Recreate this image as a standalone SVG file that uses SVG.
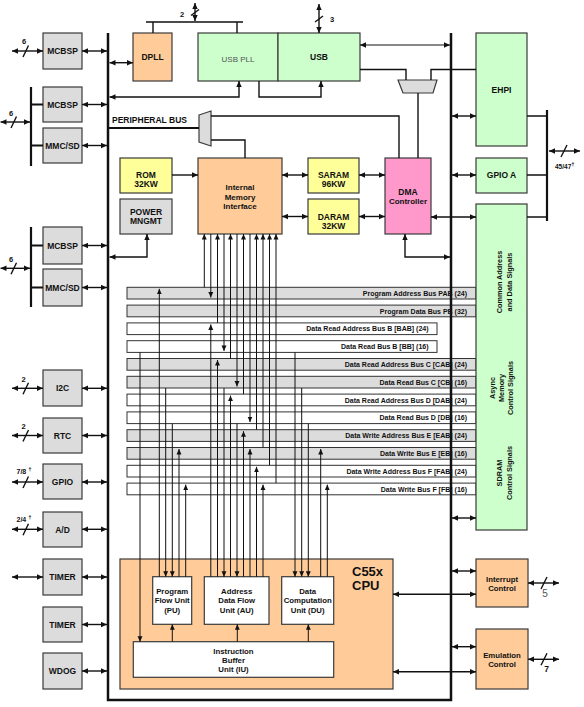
<svg xmlns="http://www.w3.org/2000/svg" width="584" height="707" viewBox="0 0 584 707">
<defs>
<style>
text{font-family:"Liberation Sans",Arial,sans-serif;font-weight:bold;font-size:8.5px;fill:#111;text-anchor:middle}
.b{stroke:#3a3a3a;stroke-width:1.2}
.g{fill:#dcdcdc}.p{fill:#ffcc99}.gr{fill:#ccffcc}.y{fill:#ffff99}.pk{fill:#ff99cc}.w{fill:#fff}
.c{fill:none;stroke:#111;stroke-width:1.4}
.t{fill:none;stroke:#111;stroke-width:2.2}
.v{fill:none;stroke:#111;stroke-width:1}
.d{marker-start:url(#a);marker-end:url(#a)}
.e{marker-end:url(#a)}
.ve{marker-end:url(#s)}
.row{stroke:#333;stroke-width:1}
.bl{font-size:7px;text-anchor:end}
.u{font-size:7.8px}
.sm{font-size:7.5px}
</style>
<marker id="a" viewBox="0 0 10 10" refX="10" refY="5" markerWidth="6" markerHeight="6" markerUnits="userSpaceOnUse" orient="auto-start-reverse"><path d="M0,0.5L10,5L0,9.5z" fill="#111"/></marker>
<marker id="s" viewBox="0 0 10 10" refX="10" refY="5" markerWidth="5.5" markerHeight="5.5" markerUnits="userSpaceOnUse" orient="auto-start-reverse"><path d="M0,0.5L10,5L0,9.5z" fill="#111"/></marker>
</defs>
<rect x="0" y="0" width="584" height="707" fill="#fff"/>

<g id="cpu"><rect class="b p" x="120" y="559" width="273" height="130"/><text x="352" y="576" style="font-size:13px;text-anchor:start">C55x</text><text x="352" y="590" style="font-size:13px;text-anchor:start">CPU</text></g>

<g id="buses">
<rect class="row g" x="127" y="287.3" width="349" height="11.7"/><text class="bl" x="467" y="295.8">Program Address Bus PAB (24)</text>
<rect class="row g" x="127" y="305.1" width="349" height="11.7"/><text class="bl" x="467" y="313.6">Program Data Bus PB (32)</text>
<rect class="row w" x="127" y="322.9" width="310" height="11.7"/><text class="bl" x="428.5" y="331.4">Data Read Address Bus B [BAB] (24)</text>
<rect class="row w" x="127" y="340.7" width="310" height="11.7"/><text class="bl" x="428.5" y="349.2">Data Read Bus B [BB] (16)</text>
<rect class="row g" x="127" y="358.5" width="349" height="11.7"/><text class="bl" x="467" y="367">Data Read Address Bus C [CAB] (24)</text>
<rect class="row g" x="127" y="376.3" width="349" height="11.7"/><text class="bl" x="467" y="384.8">Data Read Bus C [CB] (16)</text>
<rect class="row w" x="127" y="394.1" width="349" height="11.7"/><text class="bl" x="467" y="402.6">Data Read Address Bus D [DAB] (24)</text>
<rect class="row w" x="127" y="411.9" width="349" height="11.7"/><text class="bl" x="467" y="420.4">Data Read Bus D [DB] (16)</text>
<rect class="row g" x="127" y="429.7" width="349" height="11.7"/><text class="bl" x="467" y="438.2">Data Write Address Bus E [EAB] (24)</text>
<rect class="row g" x="127" y="447.5" width="349" height="11.7"/><text class="bl" x="467" y="456">Data Write Bus E [EB] (16)</text>
<rect class="row w" x="127" y="465.3" width="349" height="11.7"/><text class="bl" x="467" y="473.8">Data Write Address Bus F [FAB] (24)</text>
<rect class="row w" x="127" y="483.1" width="349" height="11.7"/><text class="bl" x="467" y="491.6">Data Write Bus F [FB] (16)</text>
</g>

<path d="M108,33V700H451V33" fill="none" stroke="#111" stroke-width="2.5"/>

<g id="mcbsp1"><rect class="b g" x="43" y="33" width="39" height="36"/><text x="62.5" y="54">MCBSP</text></g>
<g id="mcbsp2"><rect class="b g" x="43" y="87" width="39" height="35"/><text x="62.5" y="107.5">MCBSP</text></g>
<g id="mmcsd1"><rect class="b g" x="43" y="128" width="39" height="35"/><text x="62.5" y="148.5">MMC/SD</text></g>
<g id="mcbsp3"><rect class="b g" x="43" y="227" width="39" height="37"/><text x="62.5" y="248.5">MCBSP</text></g>
<g id="mmcsd2"><rect class="b g" x="43" y="269" width="39" height="37"/><text x="62.5" y="290.5">MMC/SD</text></g>
<g id="i2c"><rect class="b g" x="43" y="370" width="39" height="36"/><text x="62.5" y="391">I2C</text></g>
<g id="rtc"><rect class="b g" x="43" y="418" width="39" height="35"/><text x="62.5" y="438.5">RTC</text></g>
<g id="gpio"><rect class="b g" x="43" y="464" width="39" height="35"/><text x="62.5" y="485">GPIO</text></g>
<g id="ad"><rect class="b g" x="43" y="512" width="39" height="35"/><text x="62.5" y="532.5">A/D</text></g>
<g id="timer1"><rect class="b g" x="43" y="559" width="39" height="36"/><text x="62.5" y="580">TIMER</text></g>
<g id="timer2"><rect class="b g" x="43" y="607" width="39" height="35"/><text x="62.5" y="627.5">TIMER</text></g>
<g id="wdog"><rect class="b g" x="43" y="653" width="39" height="36"/><text x="62.5" y="674">WDOG</text></g>

<g id="dpll"><rect class="b p" x="133" y="33" width="39" height="48"/><text x="152.5" y="60">DPLL</text></g>
<g id="usbpll"><rect class="b gr" x="198" y="33" width="80" height="48"/><text x="238" y="62" style="font-weight:normal;fill:#555;font-size:8px">USB PLL</text></g>
<g id="usb"><rect class="b gr" x="278" y="33" width="82" height="48"/><text x="319" y="60">USB</text></g>

<g id="rom"><rect class="b y" x="120" y="158" width="52" height="35"/><text x="146" y="178">ROM</text><text x="146" y="187">32KW</text></g>
<g id="power"><rect class="b g" x="120" y="199" width="52" height="35"/><text x="146" y="214.5">POWER</text><text x="146" y="224">MNGMT</text></g>
<g id="imi"><rect class="b p" x="198" y="158" width="84" height="76"/><text x="240" y="189.5" style="font-size:8px">Internal</text><text x="240" y="199.5" style="font-size:8px">Memory</text><text x="240" y="208.5" style="font-size:8px">Interface</text></g>
<g id="saram"><rect class="b y" x="308" y="158" width="51" height="35"/><text x="333.5" y="178">SARAM</text><text x="333.5" y="187">96KW</text></g>
<g id="daram"><rect class="b y" x="308" y="199" width="51" height="35"/><text x="333.5" y="219.5">DARAM</text><text x="333.5" y="228.5">32KW</text></g>
<g id="dma"><rect class="b pk" x="385" y="158" width="46" height="76"/><text x="408" y="194.5">DMA</text><text x="408" y="204" style="font-size:8px">Controller</text></g>

<g id="usbmux"><polygon class="b g" points="398,80 437,80 433,93 403,93"/></g>
<g id="permux"><polygon class="b g" points="199,115 211,111 211,146 199,142"/></g>

<g id="ehpi"><rect class="b gr" x="476" y="33" width="51" height="113"/><text x="501.5" y="93">EHPI</text></g>
<g id="gpioa"><rect class="b gr" x="476" y="158" width="51" height="35"/><text x="501.5" y="178">GPIO A</text></g>
<g id="emif"><rect class="b gr" x="476" y="204" width="51" height="326"/>
<text transform="translate(502,282) rotate(-90)" style="font-size:7.3px"><tspan x="0" y="0">Common Address</tspan><tspan x="0" y="10">and Data  Signals</tspan></text>
<text transform="translate(495,388) rotate(-90)" style="font-size:7.3px"><tspan x="0" y="0">Async</tspan><tspan x="0" y="9">Memory</tspan><tspan x="0" y="18">Control Signals</tspan></text>
<text transform="translate(502,473) rotate(-90)" style="font-size:7.3px"><tspan x="0" y="0">SDRAM</tspan><tspan x="0" y="10">Control Signals</tspan></text>
</g>
<g id="intc"><rect class="b p" x="476" y="559" width="52" height="48"/><text class="u" x="502" y="582">Interrupt</text><text class="u" x="502" y="591">Control</text></g>
<g id="emu"><rect class="b p" x="476" y="629" width="52" height="60"/><text class="u" x="502" y="658">Emulation</text><text class="u" x="502" y="667">Control</text></g>

<g id="pu"><rect class="b w" x="152.7" y="576.7" width="39" height="47.6"/><text class="u" x="172.2" y="593.5">Program</text><text class="u" x="172.2" y="603">Flow Unit</text><text class="u" x="172.2" y="612.5">(PU)</text></g>
<g id="au"><rect class="b w" x="204.3" y="576.7" width="64.7" height="47.6"/><text class="u" x="236.7" y="593.5">Address</text><text class="u" x="236.7" y="603">Data Flow</text><text class="u" x="236.7" y="612.5">Unit (AU)</text></g>
<g id="du"><rect class="b w" x="281.7" y="576.7" width="52" height="47.6"/><text class="u" x="307.7" y="593.5">Data</text><text class="u" x="307.7" y="603">Computation</text><text class="u" x="307.7" y="612.5">Unit (DU)</text></g>
<g id="ibu"><rect class="b w" x="133.3" y="641.7" width="200.4" height="35.6"/><text class="u" x="233.5" y="653.5">Instruction</text><text class="u" x="233.5" y="662.5">Buffer</text><text class="u" x="233.5" y="671.5">Unit (IU)</text></g>

<g id="connectors">
<path class="c d" d="M12,51H43"/><path class="c" d="M23,57L28.5,45.5"/><text class="sm" x="24" y="44">6</text>
<path class="t" d="M31,87V166M31,104.5H43M31,145.5H43"/>
<path class="c d" d="M0.5,122H30"/><path class="c" d="M11,128L16.5,116.5"/><text class="sm" x="11" y="115.5">6</text>
<path class="t" d="M31,227V307M31,245.5H43M31,287.5H43"/>
<path class="c d" d="M0.5,268.3H30"/><path class="c" d="M11,274.3L16.5,262.8"/><text class="sm" x="11" y="261.5">6</text>
<path class="c d" d="M12,388.3H43"/><path class="c" d="M23,394.3L28.5,382.8"/><text class="sm" x="23.5" y="382">2</text>
<path class="c d" d="M12,435.5H43"/><path class="c" d="M23,441.5L28.5,430"/><text class="sm" x="23.5" y="429">2</text>
<path class="c d" d="M12,482H43"/><path class="c" d="M23,488L28.5,476.5"/><text class="sm" x="24" y="473.5" style="font-size:7px">7/8 <tspan dy="-3" style="font-size:6px">†</tspan></text>
<path class="c d" d="M12,529.3H43"/><path class="c" d="M23,535.3L28.5,523.8"/><text class="sm" x="24" y="521.5" style="font-size:7px">2/4 <tspan dy="-3" style="font-size:6px">†</tspan></text>
<path class="c d" d="M12,577H43"/>

<path class="c d" d="M82,51H107"/>
<path class="c d" d="M82,104.5H107"/>
<path class="c d" d="M82,145.5H107"/>
<path class="c d" d="M82,245.5H107"/>
<path class="c d" d="M82,287.5H107"/>
<path class="c d" d="M82,388.3H107"/>
<path class="c d" d="M82,435.5H107"/>
<path class="c d" d="M82,482H107"/>
<path class="c d" d="M82,529.3H107"/>
<path class="c d" d="M82,577H107"/>
<path class="c d" d="M82,624.5H107"/>
<path class="c d" d="M82,671H107"/>

<path class="c" d="M146,22H243M153,22V33M237,22V33"/>
<path class="c d" d="M195,3V21"/><path class="c" d="M191,15.5L199,9.5"/><text class="sm" x="182" y="17">2</text>
<path class="c d" d="M319,4V33"/><path class="c" d="M315,22L323,16"/><text class="sm" x="332" y="22">3</text>
<path class="c d" d="M109.5,62.7H133"/>
<path class="c d" d="M239,81V97H109.5"/>
<path class="c e" d="M259,81V97H321V81"/>
<path class="v d" d="M360,45H450"/>
<path class="c" d="M360,69.5H406V80M476,69.5H431V80M418,93V158"/>

<path class="t" d="M108,128H199"/>
<text x="112" y="123" style="text-anchor:start">PERIPHERAL BUS</text>
<path class="c" d="M211,116H399V158M211,140H245V158"/>

<path class="c e" d="M172,175H198"/>
<path class="c d" d="M282,175H308"/>
<path class="c d" d="M282,216.5H308"/>
<path class="c d" d="M359,175H385"/>
<path class="c d" d="M359,216.5H385"/>
<path class="c d" d="M431,217H476"/>
<path class="c d" d="M405,234V257H450"/>
<path class="c d" d="M147,234V257H109.5"/>

<path class="c d" d="M452,116H476"/>
<path class="c d" d="M452,175H476"/>
<path class="c d" d="M452,518H476"/>
<path class="c d" d="M452,571H476"/>
<path class="c d" d="M452,646.7H476"/>
<path class="t" d="M547,110V221"/>
<path class="c" d="M527,116H547M527,175H547M527,217H547"/>
<path class="c d" d="M549,151H580"/><path class="c" d="M561,157L567,145"/><text x="555" y="169" style="font-size:6.5px;text-anchor:start">45/47<tspan dy="-3" style="font-size:6px">†</tspan></text>
<path class="c d" d="M393,594.3H476"/>
<path class="c d" d="M393,671.7H476"/>
<path class="c d" d="M528,583H559"/><path class="c" d="M541,589L547,577"/><text x="545" y="597" style="font-size:10px;font-weight:normal;fill:#555">5</text>
<path class="c d" d="M528,659.3H559"/><path class="c" d="M541,665.3L547,653.3"/><text x="546.5" y="672" style="font-size:8.5px">7</text>

<path class="v ve" d="M204.3,287.3V234"/>
<path class="v ve" d="M210.8,234V297.5"/>
<path class="v ve" d="M217.5,322.9V234"/>
<path class="v ve" d="M224,234V350.9"/>
<path class="v ve" d="M230.5,358.5V234"/>
<path class="v ve" d="M237,234V386.5"/>
<path class="v ve" d="M243.5,394.1V234"/>
<path class="v ve" d="M250,234V422.1"/>
<path class="v ve" d="M256.5,429.7V234"/>
<path class="v ve" d="M263,447.5V234"/>
<path class="v ve" d="M269.5,465.3V234"/>
<path class="v ve" d="M276,483.1V234"/>

<path class="v ve" d="M159.3,576.7V288.8"/>
<path class="v ve" d="M165.7,388V576.7"/>
<path class="v ve" d="M172.3,423.6V576.7"/>
<path class="v ve" d="M179,576.7V449"/>
<path class="v ve" d="M185.7,576.7V484.6"/>

<path class="v ve" d="M210.8,576.7V324.4"/>
<path class="v ve" d="M217.5,576.7V360"/>
<path class="v ve" d="M224,388V576.7"/>
<path class="v ve" d="M230.5,576.7V395.6"/>
<path class="v ve" d="M237,423.6V576.7"/>
<path class="v ve" d="M243.5,576.7V431.2"/>
<path class="v ve" d="M250,576.7V449"/>
<path class="v ve" d="M256.5,576.7V466.8"/>
<path class="v ve" d="M263,576.7V484.6"/>

<path class="v ve" d="M295,352.4V576.7"/>
<path class="v ve" d="M301.7,388V576.7"/>
<path class="v ve" d="M308.3,423.6V576.7"/>
<path class="v ve" d="M320.7,576.7V449"/>
<path class="v ve" d="M327.3,576.7V484.6"/>

<path class="v ve" d="M140,352.4V641.7"/>
<path class="v ve" d="M172.3,641.7V624.3"/>
<path class="v ve" d="M237.3,641.7V624.3"/>
<path class="v ve" d="M308.3,641.7V624.3"/>
</g>
</svg>
